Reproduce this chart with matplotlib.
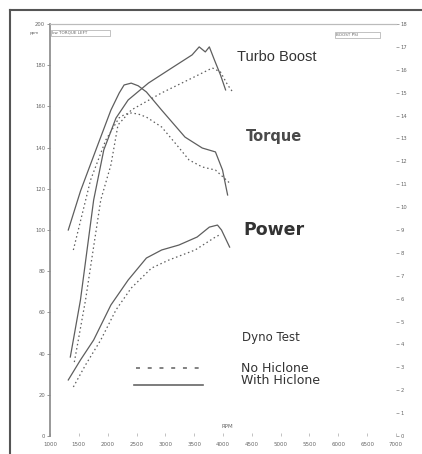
import matplotlib
matplotlib.use("Agg")
import matplotlib.pyplot as plt
from matplotlib.lines import Line2D

# ---- data ----
torque_with_rpm = [1317, 1530, 1827, 2056, 2200, 2285, 2408, 2530, 2672, 2936, 3341, 3640, 3869, 3992, 4080]
torque_with = [100.0, 119.0, 141.2, 158.2, 166.5, 170.4, 171.3, 170.0, 167.0, 158.2, 145.1, 139.8, 137.9, 129.1, 117.0]

torque_no_rpm = [1405, 1704, 1968, 2197, 2300, 2408, 2530, 2672, 2936, 3200, 3411, 3640, 3869, 4115]
torque_no = [90.3, 124.3, 143.7, 154.4, 156.2, 156.8, 156.3, 154.8, 150.0, 141.2, 134.0, 130.6, 129.1, 122.8]

boost_with_rpm = [1352, 1528, 1757, 1933, 2144, 2355, 2707, 3112, 3464, 3587, 3693, 3763, 3851, 3957, 4045]
boost_with = [3.45, 5.94, 10.31, 12.50, 13.89, 14.68, 15.42, 16.08, 16.65, 17.0, 16.78, 17.0, 16.43, 15.77, 15.12]

boost_no_rpm = [1422, 1616, 1880, 2056, 2179, 2408, 2936, 3464, 3816, 3957, 4080, 4168]
boost_no = [3.23, 5.94, 10.31, 11.84, 13.59, 14.24, 14.99, 15.64, 16.08, 15.90, 15.34, 15.03]

power_with_rpm = [1317, 1528, 1757, 2056, 2355, 2672, 2936, 3235, 3552, 3763, 3904, 3974, 4115]
power_with = [27.2, 36.9, 46.6, 63.6, 75.7, 86.4, 90.3, 92.7, 96.6, 101.4, 102.4, 100.0, 91.7]

power_no_rpm = [1405, 1616, 1880, 2144, 2408, 2760, 3059, 3517, 3869, 3939]
power_no = [23.8, 34.5, 46.6, 61.2, 71.8, 81.5, 85.4, 90.3, 96.6, 97.6]

x_ticks = [1000, 1500, 2000, 2500, 3000, 3500, 4000, 4500, 5000, 5500, 6000, 6500, 7000]
left_ticks = [0, 20, 40, 60, 80, 100, 120, 140, 160, 180, 200]
right_ticks = list(range(0, 19))

LC = "#5e5e5e"
TC = "#666666"

fig = plt.figure(figsize=(4.22, 4.54), dpi=100)
fig.patch.set_facecolor("white")

ax = fig.add_axes([50/422, 18/454, 346/422, 412/454])
ax2 = ax.twinx()

ax.set_xlim(1000, 7000)
ax.set_ylim(0, 200)
ax2.set_ylim(0, 18)

for a in (ax, ax2):
    for s in ("bottom", "right"):
        a.spines[s].set_visible(False)
    a.spines["top"].set_color("#bbbbbb")
    a.spines["top"].set_linewidth(0.8)
    a.spines["left"].set_color("#888888")
    a.spines["left"].set_linewidth(1.2)
ax2.spines["left"].set_visible(False)

ax.set_xticks(x_ticks)
ax.set_xticklabels([str(t) for t in x_ticks], fontsize=4, color=TC)
ax.tick_params(axis="x", direction="in", length=2, width=0.5, color="#aaaaaa", pad=4)
ax.set_yticks(left_ticks)
ax.set_yticklabels([str(t) for t in left_ticks], fontsize=3.8, color=TC)
ax.tick_params(axis="y", direction="out", length=2.5, width=0.6, color="#888888", pad=1)
ax2.set_yticks(right_ticks)
ax2.set_yticklabels([str(t) for t in right_ticks], fontsize=3.8, color=TC)
ax2.tick_params(axis="y", direction="out", length=2.5, width=0.6, color="#999999", pad=1)

dot = (0, (1.2, 2.2))
ax.plot(torque_with_rpm, torque_with, color=LC, lw=0.9)
ax.plot(torque_no_rpm, torque_no, color=LC, lw=0.9, ls=dot)
ax.plot(power_with_rpm, power_with, color=LC, lw=0.9)
ax.plot(power_no_rpm, power_no, color=LC, lw=0.9, ls=dot)
ax2.plot(boost_with_rpm, boost_with, color=LC, lw=0.9)
ax2.plot(boost_no_rpm, boost_no, color=LC, lw=0.9, ls=dot)

# annotations
fig.text(237/422, 1-57/454, "Turbo Boost", fontsize=10.5, color="#333333", va="center", family="Liberation Sans")
fig.text(246/422, 1-137/454, "Torque", fontsize=10.5, color="#4a4a4a", va="center", family="DejaVu Sans", weight="bold")
fig.text(243/422, 1-230/454, "Power", fontsize=12.5, color="#333333", va="center", family="DejaVu Sans", weight="bold")
fig.text(242/422, 1-337/454, "Dyno Test", fontsize=8.5, color="#333333", va="center", family="DejaVu Sans")
fig.text(241/422, 1-368/454, "No Hiclone", fontsize=9, color="#333333", va="center", family="DejaVu Sans")
fig.text(241/422, 1-380/454, "With Hiclone", fontsize=9, color="#333333", va="center", family="DejaVu Sans")
fig.text(222/422, 1-426/454, "RPM", fontsize=4, color=TC, va="center")

fig.add_artist(Line2D([136/422, 205/422], [1-368/454, 1-368/454], color="#777777", lw=1.3, ls=(0, (2.2, 4.3))))
fig.add_artist(Line2D([134/422, 203/422], [1-385/454, 1-385/454], color="#666666", lw=1.2))

# small top boxes
fig.text(30/422, 1-33/454, "ppm", fontsize=3, color=TC, va="center")
fig.text(52/422, 1-33/454, "kw TORQUE LEFT                 ", fontsize=3, color=TC, va="center",
         bbox=dict(boxstyle="square,pad=0.3", fc="white", ec="#aaaaaa", lw=0.5))
fig.text(336/422, 1-35/454, "BOOST PSI                 ", fontsize=3, color=TC, va="center",
         bbox=dict(boxstyle="square,pad=0.3", fc="white", ec="#aaaaaa", lw=0.5))

# outer frame
fig.add_artist(Line2D([10/422, 10/422], [0, 1-10/454], color="#555555", lw=1.5))
fig.add_artist(Line2D([10/422, 1], [1-10/454, 1-10/454], color="#555555", lw=1.5))

fig.savefig("out.png", dpi=100)
